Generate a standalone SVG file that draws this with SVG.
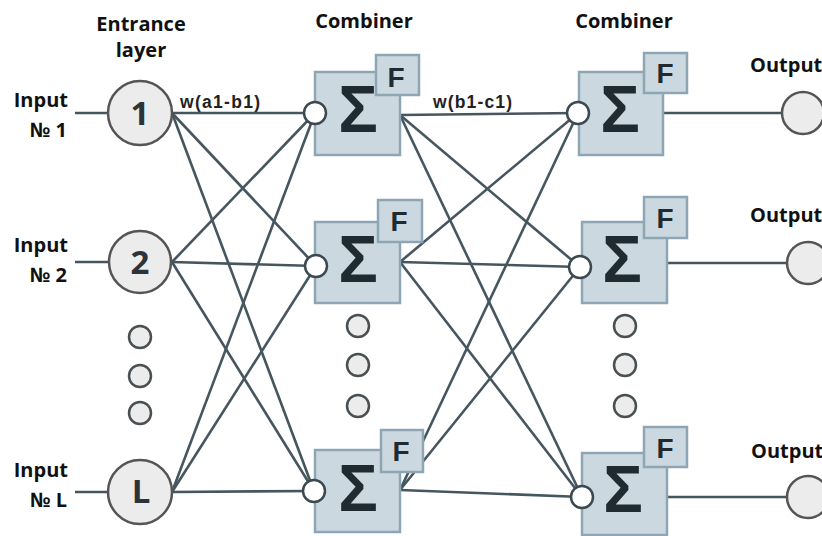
<svg xmlns="http://www.w3.org/2000/svg" width="822" height="536" viewBox="0 0 822 536">
<style>
.lbl{font-family:"Open Sans","Liberation Sans",sans-serif;font-weight:bold;font-size:20px;fill:#111}
.w{font-family:"Liberation Sans",Arial,sans-serif;font-weight:bold;font-size:17.5px;fill:#222}
.num{font-family:"Open Sans","Liberation Sans",sans-serif;font-weight:bold;font-size:33px;fill:#2b343a;text-anchor:middle}
.sig{font-family:"Liberation Sans",Arial,sans-serif;font-weight:bold;font-size:66px;fill:#1f2a31;text-anchor:middle}
.f{font-family:"Liberation Sans",Arial,sans-serif;font-weight:bold;font-size:28px;fill:#1f2a31;text-anchor:middle}
.box{fill:#cbd8e0;stroke:#8ea6b4;stroke-width:2.5}
.in{fill:#ececec;stroke:#555;stroke-width:2.5}
.dot{fill:#ececec;stroke:#4a4f52;stroke-width:2.5}
.sc{fill:#fff;stroke:#3d4950;stroke-width:2.5}
.ln{stroke:#46565f;stroke-width:2.6;fill:none}
</style>
<rect width="822" height="536" fill="#fff"/>
<g id="labels">
<text class="lbl" x="141" y="31" text-anchor="middle">Entrance</text>
<text class="lbl" x="141" y="57" text-anchor="middle">layer</text>
<text class="lbl" x="364" y="28" text-anchor="middle">Combiner</text>
<text class="lbl" x="624" y="28" text-anchor="middle">Combiner</text>
<text class="lbl" x="68" y="107" text-anchor="end">Input</text>
<text class="lbl" x="67" y="137" text-anchor="end">№ 1</text>
<text class="lbl" x="68" y="252" text-anchor="end">Input</text>
<text class="lbl" x="67" y="282" text-anchor="end">№ 2</text>
<text class="lbl" x="68" y="477" text-anchor="end">Input</text>
<text class="lbl" x="67" y="507" text-anchor="end">№ L</text>
<text class="lbl" x="750" y="72">Output</text>
<text class="lbl" x="750" y="222">Output</text>
<text class="lbl" x="751" y="458">Output</text>
<text class="w" x="180" y="108" textLength="80">w(a1-b1)</text>
<text class="w" x="433" y="108" textLength="79">w(b1-c1)</text>
</g>
<g id="connectors" class="ln">
<line x1="75" y1="113" x2="108" y2="113"/>
<line x1="75" y1="262" x2="108" y2="262"/>
<line x1="75" y1="492" x2="108" y2="492"/>
<line x1="172" y1="113" x2="315" y2="113"/>
<line x1="172" y1="113" x2="316" y2="266"/>
<line x1="172" y1="113" x2="314" y2="491"/>
<line x1="172" y1="262" x2="315" y2="113"/>
<line x1="172" y1="262" x2="316" y2="266"/>
<line x1="172" y1="262" x2="314" y2="491"/>
<line x1="172" y1="492" x2="315" y2="113"/>
<line x1="172" y1="492" x2="316" y2="266"/>
<line x1="172" y1="492" x2="314" y2="491"/>
<line x1="400" y1="115" x2="578" y2="113"/>
<line x1="400" y1="115" x2="580" y2="267"/>
<line x1="400" y1="115" x2="582" y2="497"/>
<line x1="400" y1="262" x2="578" y2="113"/>
<line x1="400" y1="262" x2="580" y2="267"/>
<line x1="400" y1="262" x2="582" y2="497"/>
<line x1="400" y1="490" x2="578" y2="113"/>
<line x1="400" y1="490" x2="580" y2="267"/>
<line x1="400" y1="490" x2="582" y2="497"/>
<line x1="663" y1="113" x2="782" y2="113"/>
<line x1="667" y1="263" x2="787" y2="263"/>
<line x1="667" y1="497" x2="787" y2="497"/>
</g>
<g id="a1"><circle class="in" cx="140" cy="113" r="32"/><text class="num" x="140" y="125">1</text></g>
<g id="a2"><circle class="in" cx="140" cy="262" r="31"/><text class="num" x="140" y="274">2</text></g>
<g id="aL"><circle class="in" cx="140" cy="492" r="32"/><text class="num" x="141" y="503">L</text></g>
<g id="adots"><circle class="dot" cx="140" cy="337" r="11"/><circle class="dot" cx="140" cy="376" r="11"/><circle class="dot" cx="140" cy="413" r="11"/></g>
<g id="b1"><rect class="box" x="315" y="72" width="85" height="83"/><rect class="box" x="376" y="55" width="43" height="40"/><text class="sig" x="358" y="132">Σ</text><text class="f" x="396" y="87">F</text><circle class="sc" cx="315" cy="113" r="11"/></g>
<g id="b2"><rect class="box" x="315" y="222" width="85" height="81"/><rect class="box" x="378" y="200" width="44" height="42"/><text class="sig" x="358" y="282">Σ</text><text class="f" x="399" y="231">F</text><circle class="sc" cx="316" cy="266" r="11"/></g>
<g id="b3"><rect class="box" x="315" y="450" width="85" height="82"/><rect class="box" x="381" y="430" width="42" height="42"/><text class="sig" x="358" y="511">Σ</text><text class="f" x="401" y="461">F</text><circle class="sc" cx="314" cy="491" r="11"/></g>
<g id="bdots"><circle class="dot" cx="358" cy="326" r="11"/><circle class="dot" cx="358" cy="365" r="11"/><circle class="dot" cx="358" cy="406" r="11"/></g>
<g id="c1"><rect class="box" x="579" y="72" width="84" height="83"/><rect class="box" x="644" y="53" width="43" height="40"/><text class="sig" x="620" y="132">Σ</text><text class="f" x="665" y="83">F</text><circle class="sc" cx="578" cy="113" r="11"/></g>
<g id="c2"><rect class="box" x="582" y="222" width="85" height="81"/><rect class="box" x="644" y="197" width="43" height="41"/><text class="sig" x="622" y="282">Σ</text><text class="f" x="665" y="228">F</text><circle class="sc" cx="580" cy="267" r="11"/></g>
<g id="c3"><rect class="box" x="582" y="453" width="85" height="82"/><rect class="box" x="644" y="427" width="43" height="40"/><text class="sig" x="623" y="512">Σ</text><text class="f" x="665" y="458">F</text><circle class="sc" cx="582" cy="497" r="11"/></g>
<g id="cdots"><circle class="dot" cx="625" cy="326" r="11"/><circle class="dot" cx="625" cy="365" r="11"/><circle class="dot" cx="625" cy="406" r="11"/></g>
<g id="o1"><circle class="in" cx="803" cy="113" r="21"/></g>
<g id="o2"><circle class="in" cx="808" cy="263" r="21"/></g>
<g id="o3"><circle class="in" cx="808" cy="497" r="21"/></g>
</svg>
